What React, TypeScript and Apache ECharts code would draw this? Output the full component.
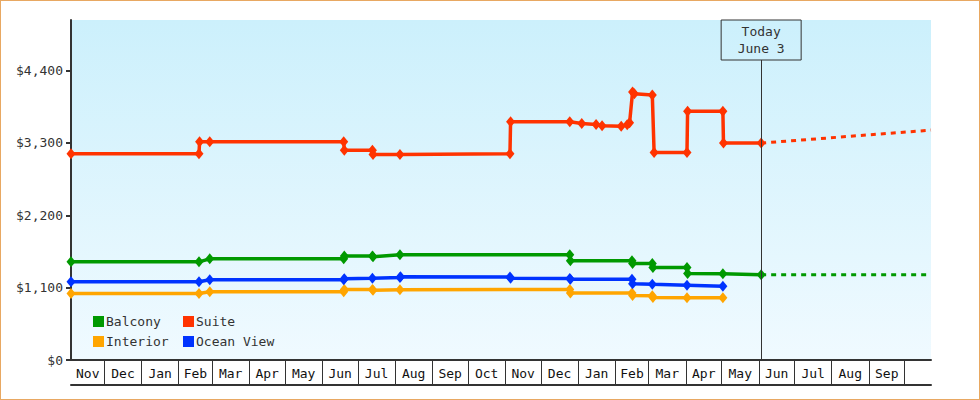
import React, { useEffect, useRef } from 'react';
import * as echarts from 'echarts';

const START = '2021-11-03';
const END = '2023-10-23';
const TODAY = '2023-06-03';
const TODAY_LABEL = 'Today\nJune 3';

const Y_MAX = 5170;
const Y_TICKS = [0, 1100, 2200, 3300, 4400];
const MONTH_NAMES = ['Jan', 'Feb', 'Mar', 'Apr', 'May', 'Jun', 'Jul', 'Aug', 'Sep', 'Oct', 'Nov', 'Dec'];

const suite: [string, number][] = [
  ['2021-11-03', 3135],
  ['2022-02-18', 3135],
  ['2022-02-18 12', 3318],
  ['2022-02-27', 3318],
  ['2022-06-19', 3318],
  ['2022-06-19 12', 3190],
  ['2022-07-13', 3190],
  ['2022-07-13 12', 3125],
  ['2022-08-05', 3125],
  ['2022-11-05', 3135],
  ['2022-11-05 12', 3622],
  ['2022-12-25', 3622],
  ['2023-01-04', 3596],
  ['2023-01-16', 3581],
  ['2023-01-21', 3561],
  ['2023-02-06', 3556],
  ['2023-02-11', 3576],
  ['2023-02-13', 3606],
  ['2023-02-15 12', 4077],
  ['2023-02-17', 4047],
  ['2023-03-04', 4031],
  ['2023-03-05 12', 3156],
  ['2023-04-02', 3156],
  ['2023-04-02 12', 3784],
  ['2023-05-02', 3784],
  ['2023-05-02 12', 3298],
  ['2023-06-03', 3298],
];

const balcony: [string, number][] = [
  ['2021-11-03', 1493],
  ['2022-02-18', 1493],
  ['2022-02-27', 1538],
  ['2022-06-19', 1538],
  ['2022-06-19 12', 1580],
  ['2022-07-13', 1580],
  ['2022-07-13 12', 1570],
  ['2022-08-05', 1600],
  ['2022-12-25', 1600],
  ['2022-12-25 12', 1508],
  ['2023-02-15', 1508],
  ['2023-02-15 12', 1467],
  ['2023-03-04', 1467],
  ['2023-03-04 12', 1406],
  ['2023-04-02', 1406],
  ['2023-04-02 12', 1315],
  ['2023-05-02', 1310],
  ['2023-06-03', 1296],
];

const oceanView: [string, number][] = [
  ['2021-11-03', 1189],
  ['2022-02-18', 1189],
  ['2022-02-27', 1220],
  ['2022-06-19', 1220],
  ['2022-06-19 12', 1235],
  ['2022-07-13', 1244],
  ['2022-08-05', 1255],
  ['2022-08-05 12', 1265],
  ['2022-11-05', 1262],
  ['2022-11-05 12', 1244],
  ['2022-12-25', 1240],
  ['2022-12-25 12', 1229],
  ['2023-02-15', 1229],
  ['2023-02-15 12', 1159],
  ['2023-03-04', 1150],
  ['2023-04-02', 1138],
  ['2023-05-02', 1123],
];

const interior: [string, number][] = [
  ['2021-11-03', 1012],
  ['2022-02-18', 1012],
  ['2022-02-27', 1038],
  ['2022-06-19', 1038],
  ['2022-06-19 12', 1073],
  ['2022-07-13', 1073],
  ['2022-07-13 12', 1062],
  ['2022-08-05', 1068],
  ['2022-12-25', 1073],
  ['2022-12-25 12', 1020],
  ['2023-02-15', 1017],
  ['2023-02-15 12', 982],
  ['2023-03-04', 978],
  ['2023-03-04 12', 950],
  ['2023-04-02', 947],
  ['2023-05-02', 947],
];

const suiteProjection: [string, number][] = [
  ['2023-06-03', 3298],
  ['2023-10-23', 3496],
];

const balconyProjection: [string, number][] = [
  ['2023-06-03', 1296],
  ['2023-10-23', 1296],
];

const COLORS: Record<string, string> = {
  Balcony: '#009900',
  Suite: '#ff3300',
  Interior: '#ffa500',
  'Ocean View': '#0033ff',
};

const FONT = 'DejaVu Sans Mono';

function ts(s: string): number {
  const [d, h] = s.split(' ');
  const [y, m, dd] = d.split('-').map(Number);
  return new Date(y, m - 1, dd, h ? Number(h) : 0).getTime();
}

function toData(arr: [string, number][]) {
  return arr.map(([d, v]) => [ts(d), v]);
}

function monthBoundaries() {
  const s = new Date(ts(START));
  const e = ts(END);
  const out: number[] = [];
  const y = s.getFullYear();
  let m = s.getMonth() + 1;
  for (;;) {
    const t = new Date(y, m, 1).getTime();
    if (t >= e) break;
    out.push(t);
    m++;
  }
  return out;
}

function labelCenters(bounds: number[]) {
  const edges = [ts(START), ...bounds, ts(END)];
  const out: number[] = [];
  const DAY = 86400000;
  for (let i = 0; i < edges.length - 1; i++) {
    if (edges[i + 1] - edges[i] >= 25 * DAY) out.push((edges[i] + edges[i + 1]) / 2);
  }
  return out;
}

function money(v: number) {
  return '$' + v.toLocaleString('en-US');
}

export default function App() {
  const ref = useRef<HTMLDivElement>(null);

  useEffect(() => {
    if (!ref.current) return;
    const chart = echarts.init(ref.current, undefined, { renderer: 'svg' });
    const bounds = monthBoundaries();
    const centers = labelCenters(bounds);

    const lineSeries = (name: string, data: [string, number][]) => ({
      name,
      type: 'line',
      data: toData(data),
      symbol: 'diamond',
      symbolSize: [9, 11],
      showSymbol: true,
      lineStyle: { width: 3.5, color: COLORS[name] },
      itemStyle: { color: COLORS[name] },
      z: 3,
    });

    const projSeries = (name: string, color: string, data: [string, number][]) => ({
      name,
      type: 'line',
      data: toData(data),
      symbol: 'none',
      lineStyle: { width: 3, color, type: [5, 5] },
      itemStyle: { color },
      z: 2,
    });

    const boxValue = Y_MAX * (1 - 40 / 340);

    const legendCommon = {
      orient: 'vertical',
      top: 310,
      itemWidth: 11,
      itemHeight: 11,
      itemGap: 7,
      icon: 'rect',
      selectedMode: false,
      textStyle: { fontFamily: FONT, fontSize: 13, color: '#333', padding: [0, 0, 0, -3] },
    };

    chart.setOption({
      animation: false,
      grid: {
        left: 71,
        right: 49,
        top: 20,
        bottom: 40,
        show: true,
        borderWidth: 0,
        backgroundColor: new echarts.graphic.LinearGradient(0, 0, 0, 1, [
          { offset: 0, color: '#ccf0fc' },
          { offset: 1, color: '#f0faff' },
        ]),
      },
      legend: [
        { ...legendCommon, left: 88, data: ['Balcony', 'Interior'] },
        { ...legendCommon, left: 178, data: ['Suite', 'Ocean View'] },
      ],
      xAxis: [
        {
          type: 'value',
          min: ts(START),
          max: ts(END),
          position: 'bottom',
          axisLine: { show: true, lineStyle: { color: '#333', width: 2 } },
          axisTick: {
            show: true,
            customValues: bounds,
            length: 25,
            lineStyle: { color: '#333', width: 1 },
          },
          axisLabel: {
            show: true,
            customValues: centers,
            formatter: (v: number) => MONTH_NAMES[new Date(v).getMonth()],
            fontFamily: FONT,
            fontSize: 13,
            color: '#111',
            margin: 7,
          },
          splitLine: { show: false },
        },
        {
          type: 'value',
          min: ts(START),
          max: ts(END),
          position: 'bottom',
          offset: 25,
          axisLine: { show: true, lineStyle: { color: '#333', width: 2 } },
          axisTick: { show: false },
          axisLabel: { show: false },
          splitLine: { show: false },
        },
      ],
      yAxis: {
        type: 'value',
        min: 0,
        max: Y_MAX,
        axisLine: { show: true, lineStyle: { color: '#333', width: 2 } },
        axisTick: {
          show: true,
          customValues: Y_TICKS,
          length: 5,
          lineStyle: { color: '#333', width: 2 },
        },
        axisLabel: {
          customValues: Y_TICKS,
          formatter: (v: number) => money(v),
          fontFamily: FONT,
          fontSize: 13,
          color: '#333',
          margin: 8,
        },
        splitLine: { show: false },
      },
      series: [
        projSeries('Suite projection', COLORS.Suite, suiteProjection),
        projSeries('Balcony projection', COLORS.Balcony, balconyProjection),
        lineSeries('Interior', interior),
        lineSeries('Ocean View', oceanView),
        lineSeries('Balcony', balcony),
        {
          ...lineSeries('Suite', suite),
          markLine: {
            silent: true,
            symbol: ['none', 'none'],
            lineStyle: { color: '#333', width: 1, type: 'solid' },
            label: {
              show: true,
              position: 'end',
              distance: 0,
              formatter: TODAY_LABEL,
              fontFamily: FONT,
              fontSize: 13,
              lineHeight: 17,
              color: '#333',
              borderColor: '#333',
              borderWidth: 1,
              padding: [3, 0, 3, 0],
              width: 80,
              align: 'center',
            },
            data: [[{ coord: [ts(TODAY), 0] }, { coord: [ts(TODAY), boxValue] }]],
          },
        },
      ],
    });

    return () => chart.dispose();
  }, []);

  return (
    <div
      style={{
        position: 'absolute',
        left: 0,
        top: 0,
        width: 980,
        height: 400,
        boxSizing: 'border-box',
        border: '1px solid #e8a862',
        background: '#fff',
      }}
    >
      <div ref={ref} style={{ position: 'absolute', left: -1, top: -1, width: 980, height: 400 }} />
    </div>
  );
}
